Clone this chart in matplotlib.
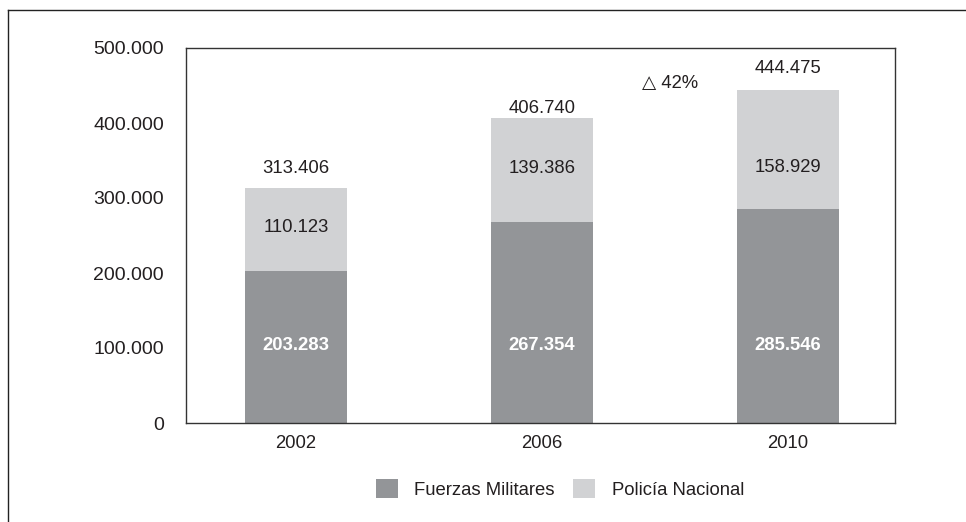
import matplotlib.pyplot as plt
from matplotlib.lines import Line2D
from matplotlib import font_manager

years = ["2002", "2006", "2010"]
militares = [203283, 267354, 285546]
policia = [110123, 139386, 158929]
totales = [313406, 406740, 444475]
yticks = [0, 100000, 200000, 300000, 400000, 500000]
ytick_labels = ["0", "100.000", "200.000", "300.000", "400.000", "500.000"]

def fmt(v):
    return "{:,}".format(v).replace(",", ".")

plt.rcParams['font.family'] = ['Liberation Sans', 'DejaVu Sans']
names = {f.name for f in font_manager.fontManager.ttflist}
bold_fam = 'Liberation Sans Narrow' if 'Liberation Sans Narrow' in names else 'Liberation Sans'
txt = '#231f20'
dark = '#939598'
light = '#d1d2d4'

# label placement (layout only)
dark_label_y = 104000
light_label_y = [261000, 339000, 341000]
total_offset = [14, 7, 15]

fig = plt.figure(figsize=(9.66, 5.22), dpi=100)
ax = fig.add_axes([186/966, 1-423/522, (895-186)/966, (423-48)/522])

x = list(range(len(years)))
w = 0.415
ax.bar(x, militares, w, color=dark, label="Fuerzas Militares")
ax.bar(x, policia, w, bottom=militares, color=light, label="Policía Nacional")

for i in x:
    ax.text(i, dark_label_y, fmt(militares[i]), ha='center', va='center',
            color='white', fontsize=13.3, fontweight='bold', family=bold_fam)
    ax.text(i, light_label_y[i], fmt(policia[i]), ha='center',
            va='center', color=txt, fontsize=13.3)
    ax.annotate(fmt(totales[i]), (i, totales[i]), xytext=(0, total_offset[i]),
                textcoords='offset points', ha='center', va='center',
                color=txt, fontsize=13.3)

ax.text(1.52, 453000, "△ 42%", ha='center', va='center', color=txt,
        fontsize=13.3)

ax.set_xlim(-0.447, 2.435)
ax.set_ylim(0, 500000)
ax.set_xticks(x)
ax.set_xticklabels(years, fontsize=13.3, color=txt)
ax.set_yticks(yticks)
ax.set_yticklabels(ytick_labels, fontsize=14, color=txt)
ax.tick_params(length=0)
ax.tick_params(axis='x', pad=9)
ax.tick_params(axis='y', pad=16)
for s in ax.spines.values():
    s.set_color('#333333')
    s.set_linewidth(1.0)

fig.legend(loc='center', bbox_to_anchor=(560/966, 1-489/522), ncol=2,
           frameon=False, fontsize=13.3, handlelength=1.19, handleheight=1.19,
           handletextpad=0.9, columnspacing=1.0, labelcolor=txt)

fig.add_artist(Line2D([8/966, 8/966], [0, 1-10/522], color='#222222', lw=1.0))
fig.add_artist(Line2D([8/966, 1], [1-10/522, 1-10/522], color='#222222', lw=1.0))

fig.savefig("out.png", dpi=100)
